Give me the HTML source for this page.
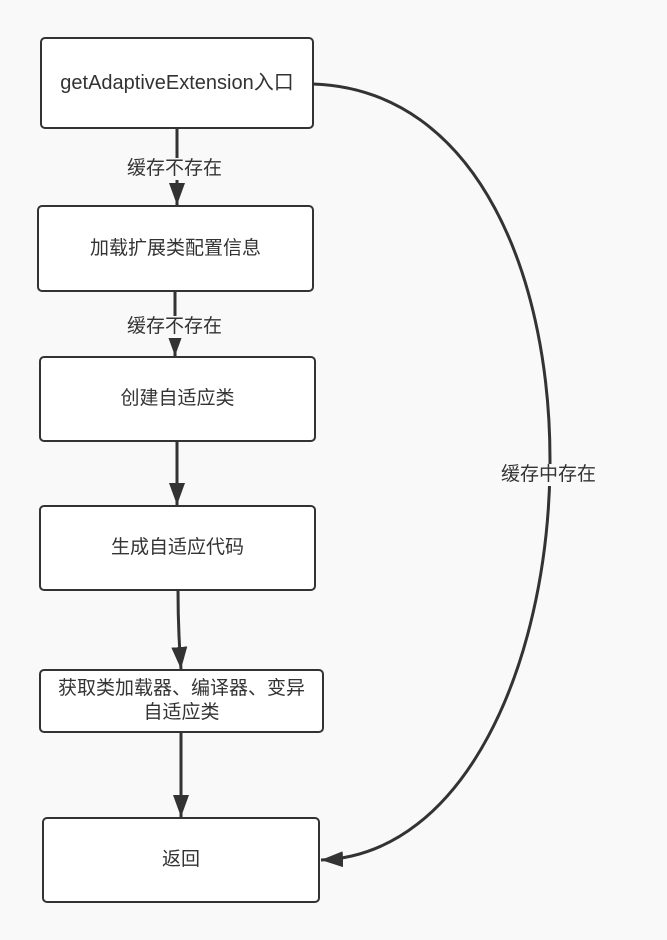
<!DOCTYPE html>
<html><head><meta charset="utf-8"><style>
html,body{margin:0;padding:0;background:#f9f9f9;}
body{width:667px;height:940px;position:relative;overflow:hidden;font-family:"Liberation Sans","Noto Sans CJK SC",sans-serif;}
.b{position:absolute;background:#fff;border:2.5px solid #333;border-radius:5px;box-sizing:border-box;display:flex;align-items:center;justify-content:center;text-align:center;font-size:19px;color:#333;line-height:24px;}
.l{position:absolute;font-size:19px;color:#333;background:#f9f9f9;line-height:22px;white-space:nowrap;}
svg{position:absolute;left:0;top:0;}
</style></head><body>
<svg width="667" height="940">
<defs>
<marker id="h" viewBox="0 0 10 10" markerWidth="22" markerHeight="16" refX="10" refY="5" orient="auto" markerUnits="userSpaceOnUse" preserveAspectRatio="none"><path d="M0,0 L10,5 L0,10 z" fill="#333"/></marker></defs>
<g stroke="#333" stroke-width="3" fill="none">
<path d="M177 128 L177 205" marker-end="url(#h)"/>
<path d="M175 290 L175 356" marker-end="url(#h)"/>
<path d="M177 441 L177 505" marker-end="url(#h)"/>
<path d="M178 590 Q178 630 181 669" marker-end="url(#h)"/>
<path d="M181 732 L181 817" marker-end="url(#h)"/>
<path d="M313 84 C645 95, 610 850, 321 860" marker-end="url(#h)"/>
</g>
</svg>
<div class="b" style="left:40px;top:37px;width:274px;height:92px;font-size:20px;">getAdaptiveExtension入口</div>
<div class="b" style="left:37px;top:205px;width:277px;height:87px;">加载扩展类配置信息</div>
<div class="b" style="left:39px;top:356px;width:277px;height:86px;">创建自适应类</div>
<div class="b" style="left:39px;top:505px;width:277px;height:86px;">生成自适应代码</div>
<div class="b" style="left:39px;top:669px;width:285px;height:64px;">获取类加载器、编译器、变异<br>自适应类</div>
<div class="b" style="left:42px;top:817px;width:278px;height:86px;">返回</div>
<div class="l" style="left:127px;top:158px;">缓存不存在</div>
<div class="l" style="left:127px;top:316px;">缓存不存在</div>
<div class="l" style="left:501px;top:464px;">缓存中存在</div>
</body></html>
